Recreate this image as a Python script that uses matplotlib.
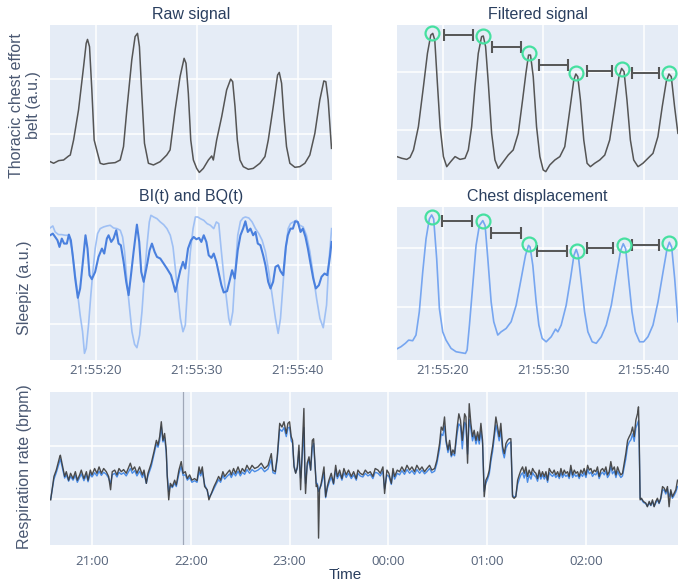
import matplotlib
matplotlib.use("Agg")
import matplotlib.pyplot as plt

# ---------------- data ----------------
# top panels: time in seconds after 21:55:00, amplitude in a.u.
sec_ticks = [20, 30, 40]
sec_labels = ["21:55:20", "21:55:30", "21:55:40"]

raw_t = [15.48, 15.81, 16.31, 16.80, 17.30, 17.46, 17.79, 18.28, 18.78, 19.04,
         19.17, 19.37, 19.60, 19.83, 20.17, 20.43, 20.76, 21.25, 21.91, 22.41,
         22.74, 23.07, 23.56, 23.89, 24.13, 24.32, 24.55, 24.82, 25.21, 25.71,
         26.37, 27.03, 27.36, 27.86, 28.35, 28.75, 28.94, 29.17, 29.41, 29.67,
         30.00, 30.26, 30.66, 31.16, 31.49, 31.65, 31.98, 32.48, 32.97, 33.37,
         33.57, 33.80, 34.03, 34.29, 34.62, 35.12, 35.61, 36.27, 36.77, 37.10,
         37.59, 38.02, 38.19, 38.42, 38.65, 38.91, 39.24, 39.74, 40.23, 40.73,
         41.22, 41.72, 42.21, 42.61, 42.81, 43.04, 43.37]
raw_a = [11.8, 10.8, 12.5, 12.9, 15.5, 16.1, 25.8, 45.2, 73.1, 88.2,
         90.7, 86.0, 58.1, 25.8, 17.2, 10.8, 10.1, 10.8, 11.2, 12.9,
         21.5, 45.2, 77.4, 92.5, 94.6, 86.0, 55.9, 23.7, 10.8, 9.7,
         11.8, 16.1, 19.4, 45.2, 66.7, 78.5, 75.3, 55.9, 25.8, 12.9,
         7.5, 4.9, 7.5, 12.9, 15.5, 12.9, 25.8, 40.9, 58.1, 65.1,
         63.4, 47.3, 25.8, 12.9, 8.6, 6.9, 7.5, 10.8, 15.1, 25.8,
         47.3, 67.7, 69.4, 62.4, 40.9, 21.5, 10.8, 8.2, 8.6, 10.8,
         16.1, 30.1, 51.6, 63.9, 63.4, 51.6, 20.4]
raw_grid = [29.7, 65.1]

filt_t = [15.43, 15.93, 16.42, 16.75, 17.09, 17.58, 18.08, 18.48, 18.81, 19.01,
          19.21, 19.47, 19.74, 20.07, 20.40, 20.79, 21.23, 21.72, 22.22, 22.55,
          22.88, 23.21, 23.54, 23.87, 24.04, 24.27, 24.54, 24.87, 25.20, 25.53,
          26.03, 26.52, 27.02, 27.52, 27.95, 28.28, 28.54, 28.74, 29.01, 29.34,
          29.67, 30.00, 30.26, 30.66, 31.16, 31.66, 32.15, 32.65, 33.05, 33.25,
          33.44, 33.71, 34.04, 34.37, 34.70, 35.13, 35.63, 36.13, 36.62, 37.12,
          37.55, 37.81, 38.05, 38.34, 38.68, 39.01, 39.44, 39.93, 40.43, 40.93,
          41.42, 41.85, 42.25, 42.52, 42.75, 43.08, 43.41]
filt_a = [15.1, 14.0, 13.3, 14.6, 19.4, 34.4, 60.2, 81.7, 93.5, 94.6,
          90.3, 62.4, 34.4, 15.1, 8.6, 11.8, 15.1, 13.3, 14.0, 19.4,
          34.4, 60.2, 81.7, 92.5, 92.9, 86.0, 62.4, 30.1, 12.9, 7.5,
          11.8, 16.1, 19.4, 30.1, 51.6, 68.8, 80.6, 80.6, 66.7, 34.4,
          15.1, 6.5, 5.4, 9.7, 12.9, 15.1, 21.5, 45.2, 64.5, 68.4,
          66.7, 51.6, 25.8, 10.8, 8.6, 10.8, 12.9, 16.1, 25.8, 47.3,
          66.7, 72.0, 69.9, 51.6, 25.8, 12.9, 8.6, 10.8, 14.0, 17.2,
          28.0, 47.3, 63.4, 68.4, 66.7, 47.3, 30.1]
filt_grid = [32.3, 69.4]
filt_peak_t = [18.91, 23.97, 28.61, 33.25, 37.88, 42.52]
filt_peak_a = [95.0, 93.1, 81.7, 69.2, 71.4, 68.8]
filt_int_start = [20.13, 24.87, 29.54, 34.34, 38.87]
filt_int_end = [23.05, 27.78, 32.45, 36.89, 41.52]
filt_int_a = [93.5, 86.0, 74.2, 70.5, 69.2]

bi_t = [15.46, 15.73, 15.96, 16.19, 16.39, 16.62, 16.85, 17.12, 17.32, 17.52,
        17.72, 17.95, 18.21, 18.44, 18.71, 18.97, 19.17, 19.37, 19.60, 19.93,
        20.26, 20.60, 20.83, 21.09, 21.26, 21.52, 21.75, 22.02, 22.25, 22.48,
        22.75, 23.01, 23.25, 23.48, 23.74, 24.07, 24.30, 24.50, 24.74, 25.07,
        25.33, 25.56, 25.83, 26.06, 26.39, 26.72, 27.05, 27.45, 27.72, 27.88,
        28.11, 28.38, 28.64, 28.87, 29.14, 29.44, 29.70, 29.97, 30.23, 30.46,
        30.70, 30.96, 31.19, 31.46, 31.69, 31.95, 32.22, 32.45, 32.68, 33.01,
        33.28, 33.51, 33.77, 34.07, 34.34, 34.60, 34.83, 35.07, 35.33, 35.60,
        35.83, 36.06, 36.32, 36.59, 36.82, 37.09, 37.32, 37.58, 37.81, 38.08,
        38.31, 38.58, 38.84, 39.04, 39.30, 39.54, 39.77, 40.03, 40.30, 40.53,
        40.79, 41.03, 41.29, 41.56, 41.82, 42.12, 42.38, 42.68, 42.95, 43.21,
        43.38]
bi_a = [375, 380, 370, 360, 340, 365, 350, 350, 377, 360,
        310, 245, 187, 215, 295, 375, 335, 255, 243, 265,
        310, 335, 320, 365, 375, 355, 365, 390, 350, 345,
        295, 235, 195, 255, 325, 407, 355, 265, 235, 285,
        330, 350, 325, 310, 305, 290, 275, 255, 225, 205,
        235, 270, 295, 275, 335, 360, 370, 363, 367, 355,
        375, 355, 315, 307, 320, 295, 257, 225, 203, 207,
        240, 270, 245, 330, 375, 395, 417, 385, 395, 375,
        385, 350, 345, 315, 285, 235, 215, 235, 280, 285,
        267, 255, 340, 375, 395, 395, 417, 415, 385, 395,
        370, 335, 290, 245, 215, 225, 250, 260, 255, 310,
        355]
bq_t = [15.46, 15.73, 15.96, 16.29, 16.62, 16.95, 17.28, 17.62, 17.95, 18.21,
        18.44, 18.68, 18.87, 19.04, 19.27, 19.50, 19.70, 19.93, 20.17, 20.43,
        20.76, 21.09, 21.42, 21.75, 22.09, 22.42, 22.65, 22.85, 23.08, 23.31,
        23.58, 23.84, 24.07, 24.34, 24.57, 24.80, 25.07, 25.30, 25.46, 25.73,
        26.06, 26.39, 26.72, 27.05, 27.38, 27.65, 27.88, 28.11, 28.38, 28.64,
        28.87, 29.11, 29.37, 29.64, 29.87, 30.10, 30.36, 30.70, 31.03, 31.36,
        31.69, 31.95, 32.19, 32.42, 32.68, 32.95, 33.18, 33.34, 33.58, 33.84,
        34.07, 34.34, 34.60, 34.83, 35.17, 35.50, 35.83, 36.16, 36.49, 36.82,
        37.15, 37.48, 37.81, 38.08, 38.31, 38.58, 38.84, 39.07, 39.30, 39.57,
        39.90, 40.23, 40.56, 40.89, 41.23, 41.56, 41.89, 42.22, 42.55, 42.88,
        43.11, 43.38]
bq_a = [397, 403, 385, 377, 377, 375, 375, 335, 255, 195,
        135, 85, 20, 35, 105, 195, 265, 335, 380, 395,
        400, 403, 405, 397, 395, 390, 370, 325, 235, 165,
        85, 47, 37, 75, 145, 245, 345, 415, 435, 430,
        425, 415, 407, 395, 375, 340, 275, 205, 125, 85,
        105, 225, 325, 395, 430, 430, 425, 420, 410, 405,
        395, 415, 410, 335, 255, 185, 125, 105, 145, 275,
        375, 417, 427, 430, 427, 415, 395, 380, 360, 325,
        265, 195, 125, 80, 125, 235, 335, 395, 410, 415,
        420, 405, 400, 375, 325, 255, 185, 125, 97, 165,
        295, 395]
bibq_grid = [107, 287]

chest_t = [15.42, 15.85, 16.28, 16.61, 17.01, 17.34, 17.67, 18.01, 18.34, 18.67,
           18.90, 19.10, 19.40, 19.67, 20.00, 20.33, 20.83, 21.33, 21.83, 22.26,
           22.43, 22.66, 22.99, 23.32, 23.65, 23.99, 24.22, 24.49, 24.82, 25.08,
           25.48, 25.81, 26.31, 26.81, 27.31, 27.81, 28.24, 28.54, 28.70, 28.97,
           29.30, 29.57, 29.90, 30.30, 30.80, 31.23, 31.46, 31.79, 32.29, 32.72,
           33.06, 33.29, 33.49, 33.79, 34.12, 34.45, 34.88, 35.28, 35.78, 36.28,
           36.78, 37.28, 37.71, 37.97, 38.21, 38.50, 38.84, 39.17, 39.60, 40.00,
           40.43, 40.93, 41.43, 41.93, 42.33, 42.56, 42.79, 43.09, 43.42]
chest_a = [7.2, 8.7, 10.9, 13.0, 12.6, 16.3, 31.5, 57.5, 79.2, 92.2,
           94.8, 92.2, 66.2, 33.6, 18.4, 13.0, 7.6, 5.4, 4.8, 4.3,
           6.5, 22.8, 48.8, 74.9, 87.9, 91.1, 87.9, 66.2, 38.0, 25.0,
           16.3, 18.4, 20.6, 25.0, 35.8, 53.2, 68.4, 74.9, 73.8, 61.8,
           38.0, 22.8, 14.1, 11.9, 15.2, 20.2, 18.4, 22.8, 35.8, 53.2,
           68.4, 72.3, 68.4, 51.0, 31.5, 18.4, 11.9, 10.9, 15.2, 22.8,
           35.8, 55.3, 71.6, 76.0, 72.7, 53.2, 31.5, 18.4, 11.9, 11.9,
           15.2, 22.8, 38.0, 57.5, 72.7, 77.0, 73.8, 53.2, 25.0]
chest_grid = [34.7, 73.1]
chest_peak_t = [18.90, 24.05, 28.57, 33.36, 38.01, 42.52]
chest_peak_a = [93.3, 91.1, 75.5, 71.2, 74.9, 76.6]
chest_int_start = [19.93, 24.85, 29.40, 34.39, 38.84]
chest_int_end = [22.92, 27.81, 32.36, 36.94, 41.53]
chest_int_a = [90.9, 83.1, 71.4, 73.1, 75.3]

# bottom panel: minutes after 21:00, respiration rate in brpm
hour_ticks = [0, 60, 120, 180, 240, 300]
hour_labels = ["21:00", "22:00", "23:00", "00:00", "01:00", "02:00"]
rr_grid = [10, 20]
window_min = 55.5

rr_t = [-25.1, -23.1, -21.7, -19.6, -19.2, -17.6, -16.6, -15.6, -14.2, -13.0,
        -11.5, -10.1, -8.9, -7.5, -6.5, -4.9, -3.4, -2.4, -1.0, 0.0,
        1.6, 3.0, 4.3, 5.7, 7.1, 8.7, 10.1, 11.3, 12.3, 13.8,
        15.2, 16.4, 17.8, 19.2, 20.8, 23.3, 24.5, 25.9, 27.3, 28.9,
        30.6, 31.6, 33.0, 34.0, 36.0, 37.6, 39.1, 40.1, 41.1, 42.1,
        43.1, 44.1, 45.1, 45.7, 46.6, 47.6, 48.8, 50.2, 51.2, 52.8,
        54.2, 55.3, 56.7, 57.9, 59.3, 60.7, 62.3, 63.8, 65.0, 66.0,
        67.0, 68.4, 70.0, 71.0, 72.5, 74.1, 75.5, 76.9, 78.1, 79.5,
        80.6, 82.0, 83.6, 84.6, 86.0, 87.2, 88.7, 90.1, 91.3, 92.7,
        94.1, 95.7, 97.2, 98.8,
        100.8, 102.8, 104.8, 106.9, 108.9, 109.9, 111.3, 112.5, 114.0, 115.4,
        116.6, 118.0, 119.0, 120.0, 121.0, 121.8, 122.7, 123.7, 124.7, 125.7,
        126.7, 127.7, 128.7, 129.3, 129.7, 130.7, 131.8, 132.8, 133.8, 134.6,
        135.2, 136.2, 136.8, 137.2, 137.6, 138.2, 139.2, 140.9, 141.9, 142.9,
        143.9, 145.3, 146.7, 148.0, 149.0, 150.4, 151.8, 153.0, 154.4, 155.8,
        157.5, 158.9, 160.5, 161.5, 162.9, 164.5, 166.0, 167.6, 169.0, 170.6,
        172.0, 173.7, 175.1, 176.7, 177.7, 179.1, 180.3, 181.8, 182.8, 183.8,
        185.4, 186.8, 188.2, 189.8, 191.3, 192.9, 194.3, 195.9, 197.3, 199.0,
        200.4, 202.0, 203.4, 205.0, 206.4, 208.1, 209.5, 211.1, 212.1, 213.1,
        214.1, 215.1, 216.2, 217.2, 218.2, 219.2, 220.2, 221.8, 222.8, 223.8,
        224.9, 226.3,
        227.1, 228.1, 229.1, 230.1, 231.1, 232.1, 233.2, 234.2, 235.2, 236.2,
        237.2, 238.2, 239.2, 240.3, 241.3, 242.3, 243.3, 244.3, 245.3, 246.3,
        247.3, 248.3, 249.4, 250.4, 251.4, 252.4, 253.4, 254.4, 255.4, 256.4,
        257.4, 258.5, 259.5, 260.5, 261.5, 262.5, 263.5, 264.5, 265.5, 266.6,
        267.6, 268.6, 269.6, 270.6, 271.6, 272.6, 273.6, 274.7, 275.7, 276.7,
        277.7, 278.7, 279.7, 280.7, 281.7, 282.8, 283.8, 284.8, 285.8, 286.8,
        287.8, 288.8, 289.8, 290.8, 291.9, 292.9, 293.9, 294.9, 295.9, 296.9,
        297.9, 298.9, 300.0, 301.0, 302.0, 303.0, 304.0, 305.0, 306.0, 307.0,
        308.0, 309.1, 310.1, 311.1, 312.1, 313.1, 314.1, 315.1, 316.1, 317.2,
        318.2, 319.2, 320.2, 321.2, 322.2, 323.2, 324.2, 325.3, 326.3, 327.3,
        328.3, 329.3, 330.3, 331.3, 331.9, 332.3, 332.9, 333.7, 334.9, 336.3,
        337.3, 338.4, 339.4, 340.4, 341.4, 342.4, 343.4, 344.4, 345.4, 346.5,
        347.5, 348.5, 349.5, 350.5, 351.5, 352.5, 353.5, 354.6, 355.6]

rr_belt = [9.9, 14.3, 15.5, 18.0, 18.3, 15.8, 14.3, 15.2, 13.6, 14.9,
           13.9, 15.2, 13.6, 14.6, 15.5, 13.9, 15.2, 13.6, 15.5, 14.6,
           15.8, 14.9, 16.1, 14.9, 15.8, 15.2, 14.3, 11.8, 15.2, 15.5,
           14.6, 15.8, 15.2, 15.6, 14.9, 16.8, 15.5, 16.1, 14.9, 16.1,
           14.6, 15.5, 13.0, 14.9, 16.8, 18.9, 21.1, 20.2, 21.8, 24.6,
           21.1, 22.4, 19.3, 14.3, 9.9, 13.0, 12.4, 13.6, 12.7, 15.5,
           17.1, 14.9, 15.2, 13.9, 14.6, 13.6, 13.9, 13.5, 16.1, 14.9,
           16.1, 12.4, 11.8, 9.9, 11.1, 12.4, 13.3, 14.3, 13.6, 15.2,
           14.3, 14.9, 15.5, 14.6, 15.8, 14.9, 16.1, 14.9, 15.8, 15.2,
           16.4, 15.5, 16.4, 15.8,
           16.1, 16.8, 15.8, 16.4, 18.6, 15.5, 15.2, 18.0, 24.3, 23.6,
           24.6, 22.4, 24.3, 24.6, 21.8, 21.1, 16.1, 14.9, 16.1, 20.2,
           11.8, 19.3, 27.1, 14.9, 11.1, 16.8, 18.0, 15.5, 21.1, 21.4,
           18.0, 12.4, 12.7, 11.8, 2.7, 11.8, 13.0, 16.1, 10.5, 12.4,
           13.6, 14.9, 13.0, 16.4, 14.3, 15.5, 13.9, 15.8, 14.6, 15.5,
           14.3, 15.2, 13.9, 15.5, 14.9, 14.6, 15.5, 14.9, 15.2, 14.3,
           15.8, 15.5, 14.9, 16.1, 11.1, 15.5, 14.9, 13.0, 15.8, 14.3,
           15.5, 15.2, 16.1, 15.2, 16.4, 15.5, 16.1, 15.2, 16.4, 15.5,
           16.1, 15.2, 15.8, 16.4, 15.5, 15.8, 17.4, 20.5, 23.6, 23.0,
           25.5, 21.1, 19.3, 21.1, 18.3, 19.3, 18.6, 23.6, 26.1, 24.9,
           21.1, 26.1,
           25.5, 16.8, 28.0, 24.3, 21.8, 23.0, 21.1, 22.7, 21.1, 24.3,
           21.1, 10.5, 13.6, 14.3, 15.5, 18.0, 19.9, 22.4, 25.5, 23.6,
           21.8, 24.3, 19.9, 18.6, 20.5, 21.1, 21.4, 21.4, 10.5, 10.2,
           10.5, 13.6, 14.6, 15.5, 16.1, 14.9, 16.1, 14.3, 15.5, 14.6,
           15.8, 15.2, 14.9, 13.9, 15.5, 14.3, 15.2, 14.3, 15.2, 13.6,
           15.8, 15.2, 14.9, 15.5, 14.6, 15.2, 14.3, 15.8, 14.6, 15.5,
           14.9, 15.2, 14.3, 16.4, 14.6, 15.5, 14.9, 15.2, 14.3, 15.5,
           14.9, 15.8, 14.6, 16.4, 15.5, 15.8, 14.9, 15.5, 15.2, 16.1,
           14.3, 15.5, 15.8, 15.2, 16.1, 14.6, 15.2, 17.1, 15.5, 16.1,
           14.6, 16.1, 15.2, 14.6, 14.9, 16.8, 18.6, 21.1, 21.8, 22.4,
           23.6, 21.8, 24.9, 26.1, 27.4, 22.4, 9.9, 10.2, 9.6, 9.3,
           8.6, 9.6, 8.9, 9.9, 8.6, 9.6, 10.2, 9.3, 10.2, 12.4,
           12.1, 11.4, 12.4, 8.6, 11.8, 10.5, 11.1, 11.8, 13.6]

rr_sleepiz = [10.0, 13.8, 15.0, 17.2, 17.6, 15.4, 14.0, 14.6, 13.4, 14.3,
              13.6, 14.5, 13.2, 14.1, 14.8, 13.5, 14.6, 13.3, 14.8, 14.2,
              15.0, 14.4, 15.3, 14.5, 15.1, 14.7, 14.0, 13.0, 14.6, 14.9,
              14.2, 15.1, 14.7, 15.0, 14.4, 15.8, 14.9, 15.4, 14.4, 15.3,
              14.1, 14.9, 13.0, 14.4, 16.2, 18.4, 20.4, 19.8, 21.0, 23.6,
              20.8, 21.6, 18.8, 14.6, 11.5, 12.6, 12.2, 13.0, 12.4, 14.8,
              16.2, 14.5, 14.6, 13.6, 14.1, 13.2, 13.5, 13.2, 15.2, 14.4,
              15.3, 12.8, 11.6, 10.4, 11.0, 12.0, 12.9, 13.7, 13.2, 14.5,
              13.8, 14.3, 14.8, 14.1, 15.0, 14.4, 15.3, 14.4, 15.1, 14.7,
              15.6, 14.9, 15.6, 15.2,
              15.5, 16.0, 15.2, 15.7, 17.5, 15.0, 14.8, 17.6, 23.2, 22.8,
              23.5, 21.8, 23.4, 23.6, 21.0, 20.6, 16.4, 15.0, 15.8, 19.0,
              14.0, 18.0, 23.5, 15.5, 13.0, 16.2, 17.5, 15.5, 19.8, 20.5,
              17.5, 13.0, 13.0, 12.5, 11.5, 12.0, 12.6, 15.0, 10.3, 12.0,
              13.0, 14.2, 12.8, 15.5, 13.9, 14.8, 13.6, 15.0, 14.1, 14.9,
              13.9, 14.6, 13.6, 14.9, 14.4, 14.2, 14.9, 14.4, 14.7, 13.9,
              15.1, 14.9, 14.4, 15.3, 12.0, 14.6, 14.3, 12.8, 15.0, 13.8,
              14.9, 14.6, 15.4, 14.7, 15.6, 14.9, 15.4, 14.7, 15.6, 14.9,
              15.5, 14.8, 15.2, 15.8, 15.0, 15.3, 16.8, 19.5, 22.3, 22.0,
              23.8, 20.6, 18.8, 20.3, 18.0, 18.6, 18.2, 22.5, 24.2, 23.8,
              19.5, 24.5,
              24.0, 18.5, 25.0, 23.2, 21.0, 22.2, 20.4, 21.8, 20.4, 22.8,
              20.5, 11.5, 13.0, 13.8, 14.8, 17.2, 19.0, 21.5, 24.0, 22.6,
              21.0, 23.0, 19.0, 17.8, 19.6, 20.3, 20.6, 20.8, 10.8, 10.4,
              10.6, 12.8, 13.8, 14.6, 15.0, 14.0, 15.2, 13.2, 14.6, 13.8,
              15.0, 14.5, 14.2, 13.4, 14.8, 13.8, 14.6, 13.8, 14.5, 13.2,
              15.0, 14.6, 14.3, 14.8, 14.1, 14.6, 13.9, 15.0, 14.1, 14.8,
              14.3, 14.6, 13.9, 15.6, 14.1, 14.8, 14.3, 14.6, 13.9, 14.8,
              14.3, 15.0, 14.1, 15.6, 14.8, 15.1, 14.3, 14.8, 14.6, 15.3,
              13.9, 14.8, 15.1, 14.6, 15.3, 14.1, 14.6, 16.2, 14.8, 15.3,
              14.1, 15.3, 14.6, 14.1, 14.4, 16.0, 17.6, 20.0, 20.8, 21.2,
              22.3, 20.9, 23.4, 24.3, 24.8, 21.0, 10.2, 10.0, 9.4, 9.2,
              8.7, 9.3, 8.8, 9.6, 8.7, 9.3, 9.9, 9.2, 10.0, 11.8,
              11.7, 11.0, 11.9, 10.5, 11.4, 10.2, 10.7, 11.4, 12.4]

# ---------------- style ----------------
BG = "#e5ecf6"
TITLE_C = "#2a3f5f"
LABEL_C = "#4a5872"
TICK_C = "#55637a"
GREY = "#555555"
MINT = "#46e0a0"

plt.rcParams["font.family"] = ["Liberation Sans", "DejaVu Sans"]

W, H = 685, 586
fig = plt.figure(figsize=(W / 100, H / 100), dpi=100)


def px_axes(l, t, r, b):
    return fig.add_axes([l / W, 1 - b / H, (r - l) / W, (b - t) / H])


def style(ax, xlim, ylim, xt, yt, xlabels=None, pad=3.2):
    ax.set_facecolor(BG)
    for s in ax.spines.values():
        s.set_visible(False)
    ax.set_xlim(*xlim)
    ax.set_ylim(*ylim)
    ax.set_xticks(xt)
    ax.set_yticks(yt)
    ax.set_yticklabels([])
    if xlabels is None:
        ax.set_xticklabels([])
    else:
        ax.set_xticklabels(xlabels, fontfamily="Open Sans", fontsize=9.5,
                           color=TICK_C)
    ax.tick_params(length=0, pad=pad)
    ax.grid(True, color="white", lw=1.1)
    ax.set_axisbelow(True)


def title(ax, text):
    ax.annotate(text, xy=(0.5, 1.0), xycoords="axes fraction",
                xytext=(0, 7.5), textcoords="offset points",
                ha="center", va="center", fontsize=11.5, color=TITLE_C)


def intervals(ax, starts, ends, levels):
    for s, e, a in zip(starts, ends, levels):
        ax.plot([s, e], [a, a], color=GREY, lw=1.4, marker="|", ms=8,
                mew=1.5, solid_capstyle="butt")


XL = (15.45, 43.42)

ax1 = px_axes(50, 25, 332, 180)
style(ax1, XL, (0, 100), sec_ticks, raw_grid)
ax1.plot(raw_t, raw_a, color=GREY, lw=1.1)
title(ax1, "Raw signal")

ax2 = px_axes(397, 25, 678, 180)
style(ax2, XL, (0, 100), sec_ticks, filt_grid)
ax2.plot(filt_t, filt_a, color=GREY, lw=1.1)
intervals(ax2, filt_int_start, filt_int_end, filt_int_a)
ax2.plot(filt_peak_t, filt_peak_a, "o", mfc="none", mec=MINT, ms=10, mew=1.6)
title(ax2, "Filtered signal")

ax3 = px_axes(50, 207, 332, 360)
style(ax3, XL, (0, 460), sec_ticks, bibq_grid, sec_labels)
ax3.plot(bq_t, bq_a, color="#9fc0f4", lw=1.2)
ax3.plot(bi_t, bi_a, color="#4a80de", lw=1.5)
title(ax3, "BI(t) and BQ(t)")

ax4 = px_axes(397, 207, 678, 360)
style(ax4, XL, (0, 100), sec_ticks, chest_grid, sec_labels)
ax4.plot(chest_t, chest_a, color="#77a6f0", lw=1.2)
intervals(ax4, chest_int_start, chest_int_end, chest_int_a)
ax4.plot(chest_peak_t, chest_peak_a, "o", mfc="none", mec=MINT, ms=10, mew=1.6)
title(ax4, "Chest displacement")

ax5 = px_axes(50, 392, 678, 545)
style(ax5, (-25.5, 355.9), (1.4, 30.2), hour_ticks, rr_grid, hour_labels,
      pad=7.5)
ax5.axvline(window_min, color="#a0a8b8", lw=0.9)
ax5.plot(rr_t, rr_sleepiz, color="#4a8ce6", lw=1.0)
ax5.plot(rr_t, rr_belt, color="#3a3a3a", lw=1.0, alpha=0.9)

fig.text(25 / W, 1 - 105 / H, "Thoracic chest effort\nbelt (a.u.)",
         rotation=90, ha="center", va="center", fontsize=11.5,
         color=LABEL_C, linespacing=1.15)
fig.text(25 / W, 1 - 288 / H, "Sleepiz (a.u.)", rotation=90, ha="center",
         va="center", fontsize=11.5, color=LABEL_C)
fig.text(25 / W, 1 - 467 / H, "Respiration rate (brpm)", rotation=90,
         ha="center", va="center", fontsize=11.5, color=LABEL_C)
fig.text(345 / W, 1 - 575 / H, "Time", ha="center", va="center",
         fontsize=11, color=TITLE_C)

fig.savefig("out.png", dpi=100, facecolor="white")
